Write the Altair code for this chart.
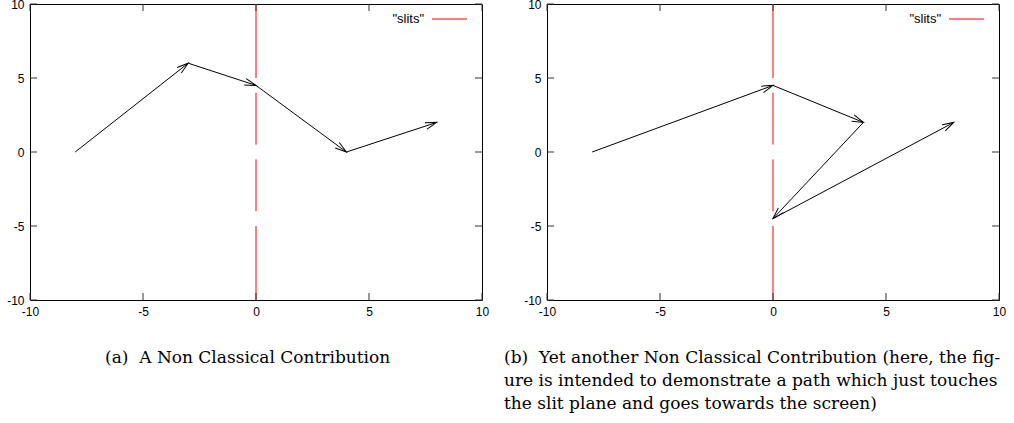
import math
import altair as alt
import pandas as pd

# ---- data ----
path_a_x = [-8, -3, 0, 4, 8]
path_a_y = [0, 6, 4.5, 0, 2]
path_b_x = [-8, 0, 4, 0, 8]
path_b_y = [0, 4.5, 2, -4.5, 2]

slit_x = 0
slit_top = [10, 4, -0.5, -5]
slit_bottom = [5, 0.5, -4, -10]

tick_values = [-10, -5, 0, 5, 10]
legend_label = ['"slits"']

NB = "\u00a0"
caption_a = ["(a)" + NB + " A Non Classical Contribution"]
caption_b = [
    "(b)" + NB + " Yet another Non Classical Contribution (here, the fig-",
    "ure is intended to demonstrate a path which just touches",
    "the slit plane and goes towards the screen)",
]

W, H = 452, 296
SANS = "Liberation Sans"
SERIF = "DejaVu Serif"


def panel(px, py, caption, cap_dx):
    xs = alt.Scale(domain=[-10, 10], nice=False, zero=False)
    ys = alt.Scale(domain=[-10, 10], nice=False, zero=False)
    path = pd.DataFrame({"x": px, "y": py, "i": list(range(len(px)))})

    heads = []
    for i in range(1, len(px)):
        ddx = (px[i] - px[i - 1]) * W / 20.0
        ddy = -(py[i] - py[i - 1]) * H / 20.0
        ang = math.degrees(math.atan2(ddy, ddx)) % 360
        heads.append({"x": px[i], "y": py[i], "angle": ang})
    heads = pd.DataFrame(heads)

    slits = pd.DataFrame({"x": [slit_x] * len(slit_top), "y": slit_top, "y2": slit_bottom})
    ticks = pd.DataFrame({"t": tick_values})
    leg = pd.DataFrame({"label": legend_label})

    xaxis = alt.Axis(values=tick_values, tickSize=0, domain=False, grid=False,
                     labelPadding=6, labelFont=SANS, labelFontSize=12,
                     labelColor="black", title=None, labelFlush=False,
                     labelExpr="'' + datum.value")
    yaxis = alt.Axis(values=tick_values, tickSize=0, domain=False, grid=False,
                     labelPadding=6, labelFont=SANS, labelFontSize=12,
                     labelColor="black", title=None, labelFlush=False,
                     labelExpr="'' + datum.value")

    X = lambda f: alt.X(f, scale=xs, axis=xaxis)
    Y = lambda f: alt.Y(f, scale=ys, axis=yaxis)

    slit_layer = alt.Chart(slits).mark_rule(color="#ff0000", strokeWidth=1).encode(
        x=X("x:Q"), y=Y("y:Q"), y2="y2:Q",
    )
    line = alt.Chart(path).mark_line(color="black", strokeWidth=1).encode(
        x=X("x:Q"), y=Y("y:Q"), order="i:Q",
    )
    arrow = alt.Chart(heads).mark_point(
        shape="M -1 -0.3 L 0 0 L -1 0.3", filled=False, color="black",
        strokeWidth=1, size=520, opacity=1,
    ).encode(
        x=X("x:Q"), y=Y("y:Q"),
        angle=alt.Angle("angle:Q", scale=None),
    )
    tcol = "#333333"
    tb = alt.Chart(ticks).mark_rule(color=tcol).encode(
        x=X("t:Q"), y=alt.value(H), y2=alt.value(H - 7))
    tt = alt.Chart(ticks).mark_rule(color=tcol).encode(
        x=X("t:Q"), y=alt.value(0), y2=alt.value(7))
    tl = alt.Chart(ticks).mark_rule(color=tcol).encode(
        y=Y("t:Q"), x=alt.value(0), x2=alt.value(7))
    tr = alt.Chart(ticks).mark_rule(color=tcol).encode(
        y=Y("t:Q"), x=alt.value(W), x2=alt.value(W - 7))
    leg_text = alt.Chart(leg).mark_text(
        align="right", baseline="middle", font=SANS, fontSize=13, color="black"
    ).encode(text="label:N", x=alt.value(394), y=alt.value(15))
    leg_line = alt.Chart(leg).mark_rule(color="#ff0000", strokeWidth=1).encode(
        x=alt.value(402), x2=alt.value(437), y=alt.value(15))

    return alt.layer(slit_layer, tb, tt, tl, tr, line, arrow, leg_text, leg_line).properties(
        width=W, height=H,
        title=alt.TitleParams(
            text=caption, orient="bottom", anchor="start", frame="group",
            dx=cap_dx, font=SERIF, fontSize=17, fontWeight="normal",
            color="black", lineHeight=23, offset=33, baseline="top",
        ),
    )


left = panel(path_a_x, path_a_y, caption_a, 75)
right = panel(path_b_x, path_b_y, caption_b, -43)

chart = alt.hconcat(left, right, spacing=13).properties(
    padding={"left": 6, "top": -3, "right": 0, "bottom": 0},
    background="white",
).configure_view(stroke="black", strokeWidth=1)

chart.save("out.html", embed_options={"renderer": "svg", "actions": False})
